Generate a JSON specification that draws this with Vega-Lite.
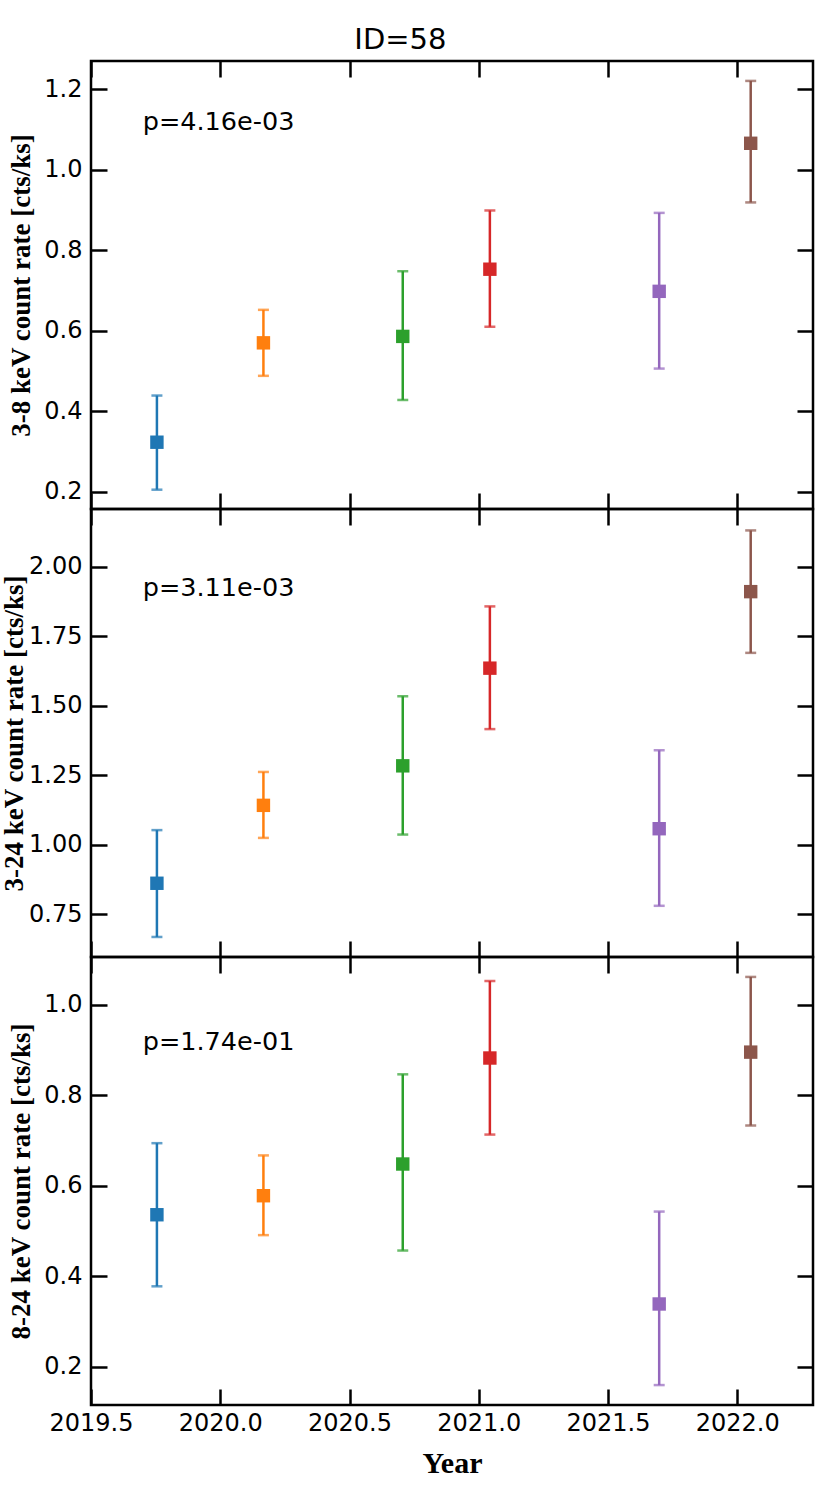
{
  "$schema": "https://vega.github.io/schema/vega-lite/v6.json",
  "description": "ID=58 count rates in three bands",
  "padding": {"left": -1, "top": 25, "right": 17, "bottom": 10},
  "title": {"text": "ID=58", "font": "DejaVu Sans", "fontSize": 29, "fontWeight": "normal", "color": "black", "anchor": "middle", "offset": 4, "dx": -7},
  "datasets": {
    "pts": [
      {"band": "a", "c": 0, "year": 2019.755, "val": 0.323, "lo": 0.205, "hi": 0.439},
      {"band": "a", "c": 1, "year": 2020.167, "val": 0.570, "lo": 0.488, "hi": 0.652},
      {"band": "a", "c": 2, "year": 2020.706, "val": 0.586, "lo": 0.428, "hi": 0.748},
      {"band": "a", "c": 3, "year": 2021.043, "val": 0.753, "lo": 0.610, "hi": 0.899},
      {"band": "a", "c": 4, "year": 2021.698, "val": 0.698, "lo": 0.506, "hi": 0.893},
      {"band": "a", "c": 5, "year": 2022.052, "val": 1.066, "lo": 0.919, "hi": 1.221},
      {"band": "b", "c": 0, "year": 2019.755, "val": 0.862, "lo": 0.669, "hi": 1.053},
      {"band": "b", "c": 1, "year": 2020.167, "val": 1.142, "lo": 1.025, "hi": 1.262},
      {"band": "b", "c": 2, "year": 2020.706, "val": 1.284, "lo": 1.037, "hi": 1.534},
      {"band": "b", "c": 3, "year": 2021.043, "val": 1.635, "lo": 1.416, "hi": 1.857},
      {"band": "b", "c": 4, "year": 2021.698, "val": 1.058, "lo": 0.781, "hi": 1.340},
      {"band": "b", "c": 5, "year": 2022.052, "val": 1.910, "lo": 1.690, "hi": 2.130},
      {"band": "c", "c": 0, "year": 2019.755, "val": 0.536, "lo": 0.378, "hi": 0.694},
      {"band": "c", "c": 1, "year": 2020.167, "val": 0.578, "lo": 0.491, "hi": 0.667},
      {"band": "c", "c": 2, "year": 2020.706, "val": 0.648, "lo": 0.457, "hi": 0.846},
      {"band": "c", "c": 3, "year": 2021.043, "val": 0.882, "lo": 0.713, "hi": 1.052},
      {"band": "c", "c": 4, "year": 2021.698, "val": 0.339, "lo": 0.160, "hi": 0.543},
      {"band": "c", "c": 5, "year": 2022.052, "val": 0.895, "lo": 0.733, "hi": 1.061}
    ],
    "notes": [
      {"band": "a", "year": 2019.70, "val": 1.098, "label": "p=4.16e-03"},
      {"band": "b", "year": 2019.70, "val": 1.896, "label": "p=3.11e-03"},
      {"band": "c", "year": 2019.70, "val": 0.899, "label": "p=1.74e-01"}
    ]
  },
  "spacing": 0,
  "bounds": "flush",
  "vconcat": [
    {
      "width": 722, "height": 448,
      "data": {"name": "pts"},
      "transform": [{"filter": "datum.band == 'a'"}],
      "layer": [
        {"mark": {"type": "rule", "strokeWidth": 2.5},
         "encoding": {
           "x": {"field": "year", "type": "quantitative", "scale": {"domain": [2019.5, 2022.293]},
                 "axis": {"orient": "bottom", "values": [2019.5, 2020, 2020.5, 2021, 2021.5, 2022], "labels": false, "title": null}},
           "y": {"field": "lo", "type": "quantitative", "scale": {"domain": [0.157, 1.2705]},
                 "axis": {"orient": "left", "values": [0.2, 0.4, 0.6, 0.8, 1.0, 1.2], "format": ".1f", "title": "3-8 keV count rate [cts/ks]"}},
           "y2": {"field": "hi"},
           "color": {"field": "c", "type": "nominal", "scale": {"domain": [0, 1, 2, 3, 4, 5], "range": ["#1f77b4", "#ff7f0e", "#2ca02c", "#d62728", "#9467bd", "#8c564b"]}, "legend": null}
         }},
        {"mark": {"type": "tick", "orient": "horizontal", "size": 11, "thickness": 2.5},
         "encoding": {
           "x": {"field": "year", "type": "quantitative", "scale": {"domain": [2019.5, 2022.293]}, "axis": null},
           "y": {"field": "lo", "type": "quantitative", "scale": {"domain": [0.157, 1.2705]}, "axis": null},
           "color": {"field": "c", "type": "nominal", "legend": null}
         }},
        {"mark": {"type": "tick", "orient": "horizontal", "size": 11, "thickness": 2.5},
         "encoding": {
           "x": {"field": "year", "type": "quantitative", "scale": {"domain": [2019.5, 2022.293]}, "axis": null},
           "y": {"field": "hi", "type": "quantitative", "scale": {"domain": [0.157, 1.2705]}, "axis": null},
           "color": {"field": "c", "type": "nominal", "legend": null}
         }},
        {"mark": {"type": "point", "shape": "square", "filled": true, "size": 180, "opacity": 1},
         "encoding": {
           "x": {"field": "year", "type": "quantitative", "scale": {"domain": [2019.5, 2022.293]}, "axis": null},
           "y": {"field": "val", "type": "quantitative", "scale": {"domain": [0.157, 1.2705]}, "axis": null},
           "color": {"field": "c", "type": "nominal", "legend": null}
         }},
        {"data": {"name": "notes"},
         "transform": [{"filter": "datum.band == 'a'"}],
         "mark": {"type": "text", "align": "left", "baseline": "alphabetic", "font": "DejaVu Sans", "fontSize": 25.5, "color": "black"},
         "encoding": {
           "x": {"field": "year", "type": "quantitative", "scale": {"domain": [2019.5, 2022.293]}, "axis": null},
           "y": {"field": "val", "type": "quantitative", "scale": {"domain": [0.157, 1.2705]}, "axis": null},
           "text": {"field": "label"}
         }},
        {"mark": {"type": "point", "opacity": 0},
         "encoding": {
           "x": {"field": "year", "type": "quantitative", "scale": {"domain": [2019.5, 2022.293]},
                 "axis": {"orient": "top", "values": [2019.5, 2020, 2020.5, 2021, 2021.5, 2022], "labels": false, "title": null}},
           "y": {"field": "val", "type": "quantitative", "scale": {"domain": [0.157, 1.2705]},
                 "axis": {"orient": "right", "values": [0.2, 0.4, 0.6, 0.8, 1.0, 1.2], "labels": false, "title": null}}
         }}
      ],
      "resolve": {"axis": {"x": "independent", "y": "independent"}}
    },
    {
      "width": 722, "height": 448,
      "data": {"name": "pts"},
      "transform": [{"filter": "datum.band == 'b'"}],
      "layer": [
        {"mark": {"type": "rule", "strokeWidth": 2.5},
         "encoding": {
           "x": {"field": "year", "type": "quantitative", "scale": {"domain": [2019.5, 2022.293]},
                 "axis": {"orient": "bottom", "values": [2019.5, 2020, 2020.5, 2021, 2021.5, 2022], "labels": false, "title": null}},
           "y": {"field": "lo", "type": "quantitative", "scale": {"domain": [0.597, 2.207]},
                 "axis": {"orient": "left", "values": [0.75, 1.0, 1.25, 1.5, 1.75, 2.0], "format": ".2f", "title": "3-24 keV count rate [cts/ks]", "titlePadding": 0}},
           "y2": {"field": "hi"},
           "color": {"field": "c", "type": "nominal", "scale": {"domain": [0, 1, 2, 3, 4, 5], "range": ["#1f77b4", "#ff7f0e", "#2ca02c", "#d62728", "#9467bd", "#8c564b"]}, "legend": null}
         }},
        {"mark": {"type": "tick", "orient": "horizontal", "size": 11, "thickness": 2.5},
         "encoding": {
           "x": {"field": "year", "type": "quantitative", "scale": {"domain": [2019.5, 2022.293]}, "axis": null},
           "y": {"field": "lo", "type": "quantitative", "scale": {"domain": [0.597, 2.207]}, "axis": null},
           "color": {"field": "c", "type": "nominal", "legend": null}
         }},
        {"mark": {"type": "tick", "orient": "horizontal", "size": 11, "thickness": 2.5},
         "encoding": {
           "x": {"field": "year", "type": "quantitative", "scale": {"domain": [2019.5, 2022.293]}, "axis": null},
           "y": {"field": "hi", "type": "quantitative", "scale": {"domain": [0.597, 2.207]}, "axis": null},
           "color": {"field": "c", "type": "nominal", "legend": null}
         }},
        {"mark": {"type": "point", "shape": "square", "filled": true, "size": 180, "opacity": 1},
         "encoding": {
           "x": {"field": "year", "type": "quantitative", "scale": {"domain": [2019.5, 2022.293]}, "axis": null},
           "y": {"field": "val", "type": "quantitative", "scale": {"domain": [0.597, 2.207]}, "axis": null},
           "color": {"field": "c", "type": "nominal", "legend": null}
         }},
        {"data": {"name": "notes"},
         "transform": [{"filter": "datum.band == 'b'"}],
         "mark": {"type": "text", "align": "left", "baseline": "alphabetic", "font": "DejaVu Sans", "fontSize": 25.5, "color": "black"},
         "encoding": {
           "x": {"field": "year", "type": "quantitative", "scale": {"domain": [2019.5, 2022.293]}, "axis": null},
           "y": {"field": "val", "type": "quantitative", "scale": {"domain": [0.597, 2.207]}, "axis": null},
           "text": {"field": "label"}
         }},
        {"mark": {"type": "point", "opacity": 0},
         "encoding": {
           "x": {"field": "year", "type": "quantitative", "scale": {"domain": [2019.5, 2022.293]},
                 "axis": {"orient": "top", "values": [2019.5, 2020, 2020.5, 2021, 2021.5, 2022], "labels": false, "title": null}},
           "y": {"field": "val", "type": "quantitative", "scale": {"domain": [0.597, 2.207]},
                 "axis": {"orient": "right", "values": [0.75, 1.0, 1.25, 1.5, 1.75, 2.0], "labels": false, "title": null}}
         }}
      ],
      "resolve": {"axis": {"x": "independent", "y": "independent"}}
    },
    {
      "width": 722, "height": 448,
      "data": {"name": "pts"},
      "transform": [{"filter": "datum.band == 'c'"}],
      "layer": [
        {"mark": {"type": "rule", "strokeWidth": 2.5},
         "encoding": {
           "x": {"field": "year", "type": "quantitative", "scale": {"domain": [2019.5, 2022.293]},
                 "axis": {"orient": "bottom", "values": [2019.5, 2020, 2020.5, 2021, 2021.5, 2022], "format": ".1f", "labelPadding": 22, "title": "Year", "titleFontSize": 30, "titlePadding": 13}},
           "y": {"field": "lo", "type": "quantitative", "scale": {"domain": [0.116, 1.105]},
                 "axis": {"orient": "left", "values": [0.2, 0.4, 0.6, 0.8, 1.0], "format": ".1f", "title": "8-24 keV count rate [cts/ks]"}},
           "y2": {"field": "hi"},
           "color": {"field": "c", "type": "nominal", "scale": {"domain": [0, 1, 2, 3, 4, 5], "range": ["#1f77b4", "#ff7f0e", "#2ca02c", "#d62728", "#9467bd", "#8c564b"]}, "legend": null}
         }},
        {"mark": {"type": "tick", "orient": "horizontal", "size": 11, "thickness": 2.5},
         "encoding": {
           "x": {"field": "year", "type": "quantitative", "scale": {"domain": [2019.5, 2022.293]}, "axis": null},
           "y": {"field": "lo", "type": "quantitative", "scale": {"domain": [0.116, 1.105]}, "axis": null},
           "color": {"field": "c", "type": "nominal", "legend": null}
         }},
        {"mark": {"type": "tick", "orient": "horizontal", "size": 11, "thickness": 2.5},
         "encoding": {
           "x": {"field": "year", "type": "quantitative", "scale": {"domain": [2019.5, 2022.293]}, "axis": null},
           "y": {"field": "hi", "type": "quantitative", "scale": {"domain": [0.116, 1.105]}, "axis": null},
           "color": {"field": "c", "type": "nominal", "legend": null}
         }},
        {"mark": {"type": "point", "shape": "square", "filled": true, "size": 180, "opacity": 1},
         "encoding": {
           "x": {"field": "year", "type": "quantitative", "scale": {"domain": [2019.5, 2022.293]}, "axis": null},
           "y": {"field": "val", "type": "quantitative", "scale": {"domain": [0.116, 1.105]}, "axis": null},
           "color": {"field": "c", "type": "nominal", "legend": null}
         }},
        {"data": {"name": "notes"},
         "transform": [{"filter": "datum.band == 'c'"}],
         "mark": {"type": "text", "align": "left", "baseline": "alphabetic", "font": "DejaVu Sans", "fontSize": 25.5, "color": "black"},
         "encoding": {
           "x": {"field": "year", "type": "quantitative", "scale": {"domain": [2019.5, 2022.293]}, "axis": null},
           "y": {"field": "val", "type": "quantitative", "scale": {"domain": [0.116, 1.105]}, "axis": null},
           "text": {"field": "label"}
         }},
        {"mark": {"type": "point", "opacity": 0},
         "encoding": {
           "x": {"field": "year", "type": "quantitative", "scale": {"domain": [2019.5, 2022.293]},
                 "axis": {"orient": "top", "values": [2019.5, 2020, 2020.5, 2021, 2021.5, 2022], "labels": false, "title": null}},
           "y": {"field": "val", "type": "quantitative", "scale": {"domain": [0.116, 1.105]},
                 "axis": {"orient": "right", "values": [0.2, 0.4, 0.6, 0.8, 1.0], "labels": false, "title": null}}
         }}
      ],
      "resolve": {"axis": {"x": "independent", "y": "independent"}}
    }
  ],
  "config": {
    "view": {"stroke": "black", "strokeWidth": 2.5},
    "axis": {
      "domain": false, "grid": false,
      "ticks": true, "tickSize": -16, "tickWidth": 2.5, "tickColor": "black",
      "labelFont": "DejaVu Sans", "labelFontSize": 24, "labelColor": "black",
      "labelPadding": 25, "labelFlush": false, "labelOverlap": false,
      "titleFont": "Liberation Serif", "titleFontSize": 27, "titleFontWeight": "bold", "titleColor": "black", "titlePadding": 8
    }
  }
}
